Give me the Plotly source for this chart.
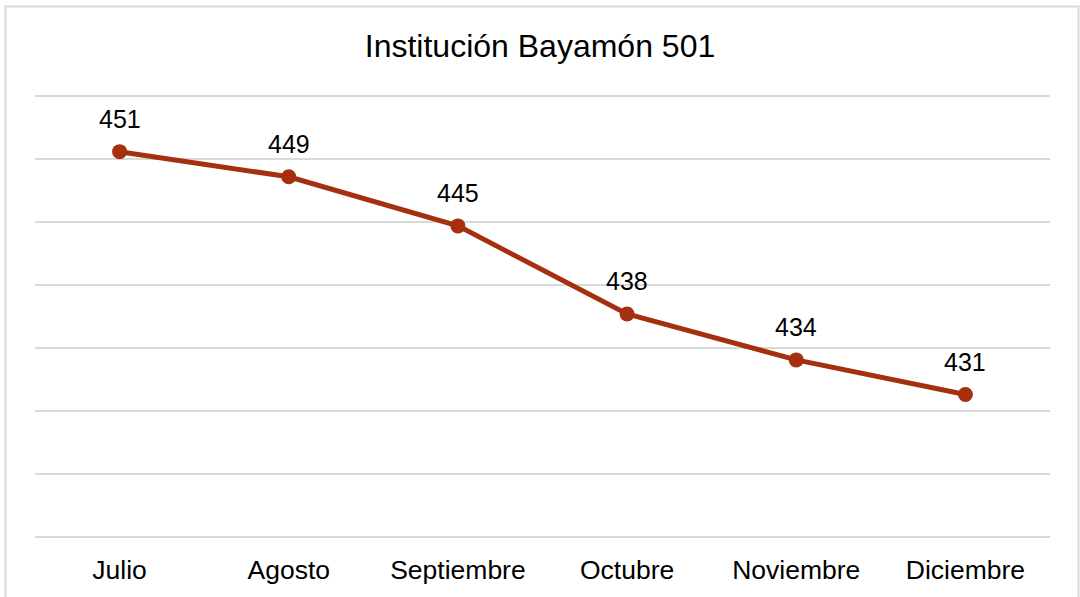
import plotly.graph_objects as go

months = ["Julio", "Agosto", "Septiembre", "Octubre", "Noviembre", "Diciembre"]
values = [450.6, 448.6, 444.7, 437.7, 434.05, 431.3]
labels = ["451", "449", "445", "438", "434", "431"]

W, H = 1080, 597
ml, mr, mt, mb = 35, 30, 90, 54
line_color = "#A5300F"
font_family = "Liberation Sans, Arial, sans-serif"

fig = go.Figure()
fig.add_trace(go.Scatter(
    x=months, y=values, mode="lines+markers",
    line=dict(color=line_color, width=5),
    marker=dict(color=line_color, size=15),
    cliponaxis=False, hoverinfo="skip",
))

for m, v, t in zip(months, values, labels):
    fig.add_annotation(x=m, y=v, text=t, showarrow=False, yshift=33,
                       font=dict(size=25, color="#000000", family=font_family))

pw = W - ml - mr
ph = H - mt - mb
def px_x(p):
    return (p - ml) / pw
def px_y(p):
    return (H - mb - p) / ph

fig.add_shape(type="rect", xref="paper", yref="paper",
              x0=px_x(5.5), x1=px_x(1078.5), y0=px_y(620), y1=px_y(6.5),
              line=dict(color="#D9D9D9", width=2), fillcolor="rgba(0,0,0,0)", layer="below")

fig.update_layout(
    width=W, height=H,
    margin=dict(l=ml, r=mr, t=mt, b=mb),
    paper_bgcolor="white", plot_bgcolor="white",
    showlegend=False,
    font=dict(family=font_family, color="#000000"),
    title=dict(text="Institución Bayamón 501", x=0.5, xanchor="center",
               y=1 - 46 / H, yanchor="middle", yref="container",
               font=dict(size=32, family=font_family, color="#000000")),
    xaxis=dict(range=[-0.5, 5.5], showgrid=False, showline=False, zeroline=False,
               ticks="", ticklabelstandoff=8,
               tickfont=dict(size=26.5, family=font_family, color="#000000"),
               fixedrange=True),
    yaxis=dict(range=[419.5, 455.5], tick0=420, dtick=5, showticklabels=False,
               showgrid=True, gridcolor="#D9D9D9", gridwidth=2, zeroline=False,
               showline=False, ticks="", fixedrange=True),
)

fig.write_html("out.html", config={"displayModeBar": False},
               post_script="document.body.style.margin='0';document.body.style.overflow='hidden';")
